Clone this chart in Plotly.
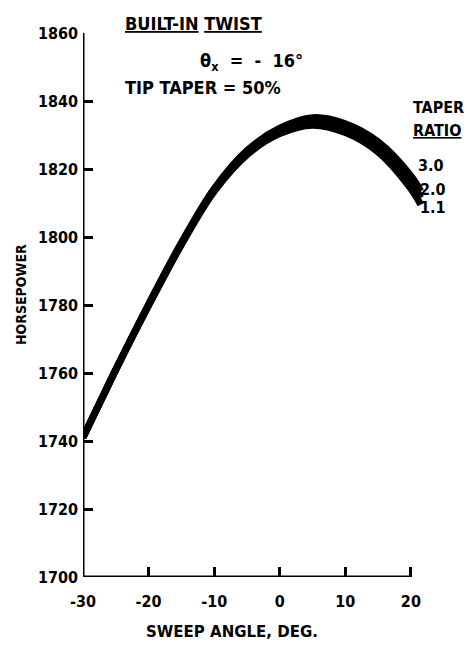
import plotly.graph_objects as go

sweep = [-30, -27, -25, -20, -15, -10, -5, 0, 5, 10, 15, 20, 21.5]
hp_taper_3_0 = [1741, 1753, 1761, 1780.2, 1798.3, 1814.2, 1825.4, 1832.0, 1835.1, 1833.3, 1828.0, 1818.0, 1813.5]
hp_taper_2_0 = [1741, 1753, 1761, 1780.0, 1798.0, 1813.8, 1824.8, 1831.2, 1834.0, 1832.0, 1826.5, 1816.0, 1811.5]
hp_taper_1_1 = [1741, 1753, 1761, 1779.8, 1797.7, 1813.4, 1824.2, 1830.4, 1832.9, 1830.7, 1825.0, 1814.2, 1809.5]

x_ticks = [-30, -20, -10, 0, 10, 20]
y_ticks = [1700, 1720, 1740, 1760, 1780, 1800, 1820, 1840, 1860]

FONT = "DejaVu Sans Condensed"
WIDE = "DejaVu Sans"

L, R, T, B = 83, 43, 33, 69
W, H = 467, 646
PW, PH = W - L - R, H - T - B


def px(x):
    return (x - L) / PW


def py(y):
    return (H - B - y) / PH


fig = go.Figure()
for ys in (hp_taper_3_0, hp_taper_2_0, hp_taper_1_1):
    fig.add_trace(go.Scatter(x=sweep, y=ys, mode="lines",
                             line=dict(color="black", width=7, shape="spline"),
                             showlegend=False, hoverinfo="skip"))

fig.update_layout(
    width=W, height=H,
    margin=dict(l=L, r=R, t=T, b=B, autoexpand=False),
    paper_bgcolor="white", plot_bgcolor="white",
    font=dict(family=FONT, color="black", size=15, weight="bold"),
    xaxis=dict(range=[-30, 22], tickvals=x_ticks, ticktext=[str(v) for v in x_ticks],
               ticks="inside", ticklen=10, tickwidth=3, tickcolor="black",
               showgrid=False, zeroline=False, showline=False, automargin=False,
               ticklabelstandoff=13,
               tickfont=dict(size=16, family=FONT, weight="bold")),
    yaxis=dict(range=[1700, 1860], tickvals=y_ticks,
               ticks="inside", ticklen=10, tickwidth=3, tickcolor="black",
               showgrid=False, zeroline=False, showline=False, automargin=False,
               ticklabelstandoff=4,
               tickfont=dict(size=16, family=FONT, weight="bold")),
)

# axis lines
fig.add_shape(type="line", xref="x", yref="y", x0=-30, x1=-30, y0=1700, y1=1860,
              line=dict(color="black", width=3))
fig.add_shape(type="line", xref="x", yref="y", x0=-30, x1=20, y0=1700, y1=1700,
              line=dict(color="black", width=3))


def note(text, x, y, size, family=FONT, xanchor="left", angle=0):
    fig.add_annotation(xref="paper", yref="paper", x=px(x), y=py(y),
                       xanchor=xanchor, yanchor="middle", textangle=angle,
                       text=text, showarrow=False,
                       font=dict(size=size, family=family, weight="bold"))


# axis titles
note("SWEEP ANGLE, DEG.", 232, 632, 15, WIDE, "center")
note("HORSEPOWER", 21, 295, 14, FONT, "center", -90)

# notes
note("<u>BUILT-IN</u> <u>TWIST</u>", 123, 23, 18)
note("θ<sub>x</sub>  =  -  16°", 198, 62, 18)
note("TIP TAPER = 50%", 123, 88, 18)
note("TAPER", 411, 108, 16)
note("<u>RATIO</u>", 411, 130, 16)
for lab, x0, yy in (("3.0", 416, 165), ("2.0", 418, 189), ("1.1", 418, 208)):
    note(lab, x0, yy, 16)

fig.write_html("out.html", config={"displayModeBar": False},
               post_script="document.body.style.margin='0';document.body.style.padding='0';")
